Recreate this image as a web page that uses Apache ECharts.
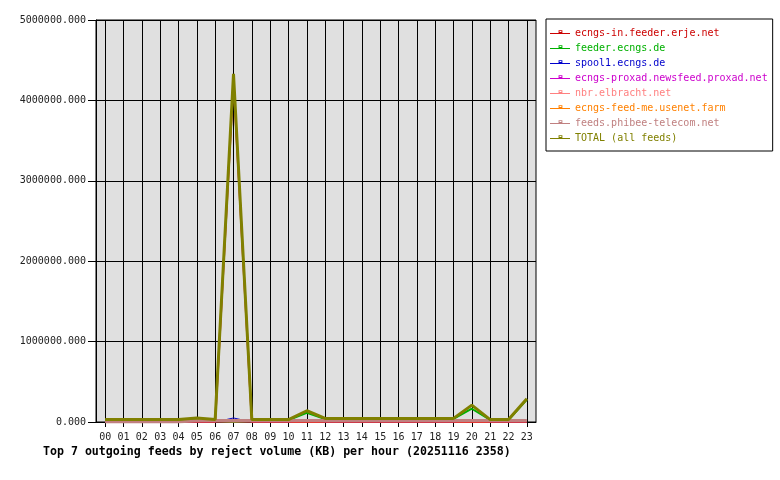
<!DOCTYPE html>
<html>
<head>
<meta charset="utf-8">
<script src="https://cdn.jsdelivr.net/npm/echarts@6/dist/echarts.min.js"></script>
<style>html,body{margin:0;padding:0;background:#fff}#c{width:780px;height:480px}</style>
</head>
<body>
<div id="c"></div>
<script>
const hours = ['00','01','02','03','04','05','06','07','08','09','10','11','12','13','14','15','16','17','18','19','20','21','22','23'];
const seriesNames = ['ecngs-in.feeder.erje.net','feeder.ecngs.de','spool1.ecngs.de','ecngs-proxad.newsfeed.proxad.net','nbr.elbracht.net','ecngs-feed-me.usenet.farm','feeds.phibee-telecom.net','TOTAL (all feeds)'];
const seriesColors = ['#cc0000','#00b000','#0000cc','#cc00cc','#ff8080','#ff8000','#c08080','#808000'];
const erje    = [0,0,0,0,0,0,0,4250000,0,0,0,0,0,0,0,0,0,0,0,0,0,0,0,0];
const ecngs   = [25000,25000,25000,25000,25000,35000,15000,0,15000,25000,25000,115000,38000,38000,38000,38000,38000,38000,38000,38000,165000,25000,25000,280000];
const spool1  = [0,0,0,0,0,0,0,50000,0,0,0,20000,0,0,0,0,0,0,0,0,30000,0,0,0];
const proxad  = [0,0,0,0,0,0,0,0,0,0,0,0,0,0,0,0,0,0,0,0,0,0,0,0];
const elbracht= [0,0,0,0,0,0,0,0,0,0,0,0,0,0,0,0,0,0,0,0,0,0,0,0];
const feedme  = [0,0,0,0,0,0,0,0,0,0,0,0,0,0,0,0,0,0,0,0,0,0,0,0];
const phibee  = [0,0,0,0,0,18000,18000,18000,18000,18000,18000,18000,18000,18000,18000,18000,18000,18000,18000,18000,18000,18000,18000,18000];
const total   = [30000,30000,30000,30000,30000,50000,30000,4330000,30000,30000,30000,140000,45000,45000,45000,45000,45000,45000,45000,45000,210000,30000,30000,290000];
const yTicks  = [0,1000000,2000000,3000000,4000000,5000000];
const titleText = 'Top 7 outgoing feeds by reject volume (KB) per hour (20251116 2358)';

const values = [erje, ecngs, spool1, proxad, elbracht, feedme, phibee, total];
const widths = [2,2,1,1,1,1,3,3];
const font = 'DejaVu Sans Mono';
// legend glyph: thin line with a small hollow square marker
const legendIcon = 'path://M0,0L0,0ZM0,10L0,10ZM0,5L21,5L21,6L0,6ZM9,2L13,2L13,5L9,5ZM10,3L10,4L12,4L12,3Z';

const chart = echarts.init(document.getElementById('c'), null, {renderer:'canvas'});
chart.setOption({
  animation: false,
  backgroundColor: '#ffffff',
  title: {
    text: titleText, left: 43, top: 446, padding: 0,
    textStyle: {fontFamily: font, fontSize: 11.6, fontWeight: 'bold', color: '#000'}
  },
  grid: {left: 96, top: 20, width: 440, height: 402, show: true, backgroundColor: '#e0e0e0', borderColor: '#000', borderWidth: 1},
  legend: {
    orient: 'vertical', left: 546, top: 19,
    padding: [9, 5, 8, 4], itemGap: 5, itemWidth: 20, itemHeight: 10,
    borderColor: '#000', borderWidth: 1, backgroundColor: '#fff',
    icon: legendIcon,
    data: seriesNames.map((n, i) => ({name: n, textStyle: {color: seriesColors[i]}})),
    textStyle: {fontFamily: font, fontSize: 10}
  },
  xAxis: {
    type: 'category', data: hours, boundaryGap: true,
    axisLine: {lineStyle: {color: '#000', width: 1}},
    axisTick: {show: true, alignWithLabel: true, length: 5, lineStyle: {color: '#000'}},
    axisLabel: {fontFamily: font, fontSize: 10, color: '#222', margin: 10, interval: 0},
    splitLine: {show: true, alignWithLabel: true, lineStyle: {color: '#000', width: 1}}
  },
  yAxis: {
    type: 'value', min: yTicks[0], max: yTicks[yTicks.length-1], interval: yTicks[1]-yTicks[0],
    axisLine: {show: true, lineStyle: {color: '#000'}},
    axisTick: {show: true, length: 8, lineStyle: {color: '#000'}},
    axisLabel: {fontFamily: font, fontSize: 10, color: '#222', margin: 10, formatter: v => v.toFixed(3)},
    splitLine: {show: true, lineStyle: {color: '#000', width: 1}}
  },
  series: seriesNames.map((n, i) => ({
    name: n, type: 'line', data: values[i],
    showSymbol: false, symbol: 'none',
    color: seriesColors[i],
    lineStyle: {color: seriesColors[i], width: widths[i]},
    itemStyle: {color: seriesColors[i]},
    emphasis: {disabled: true}
  }))
});
</script>
</body>
</html>
